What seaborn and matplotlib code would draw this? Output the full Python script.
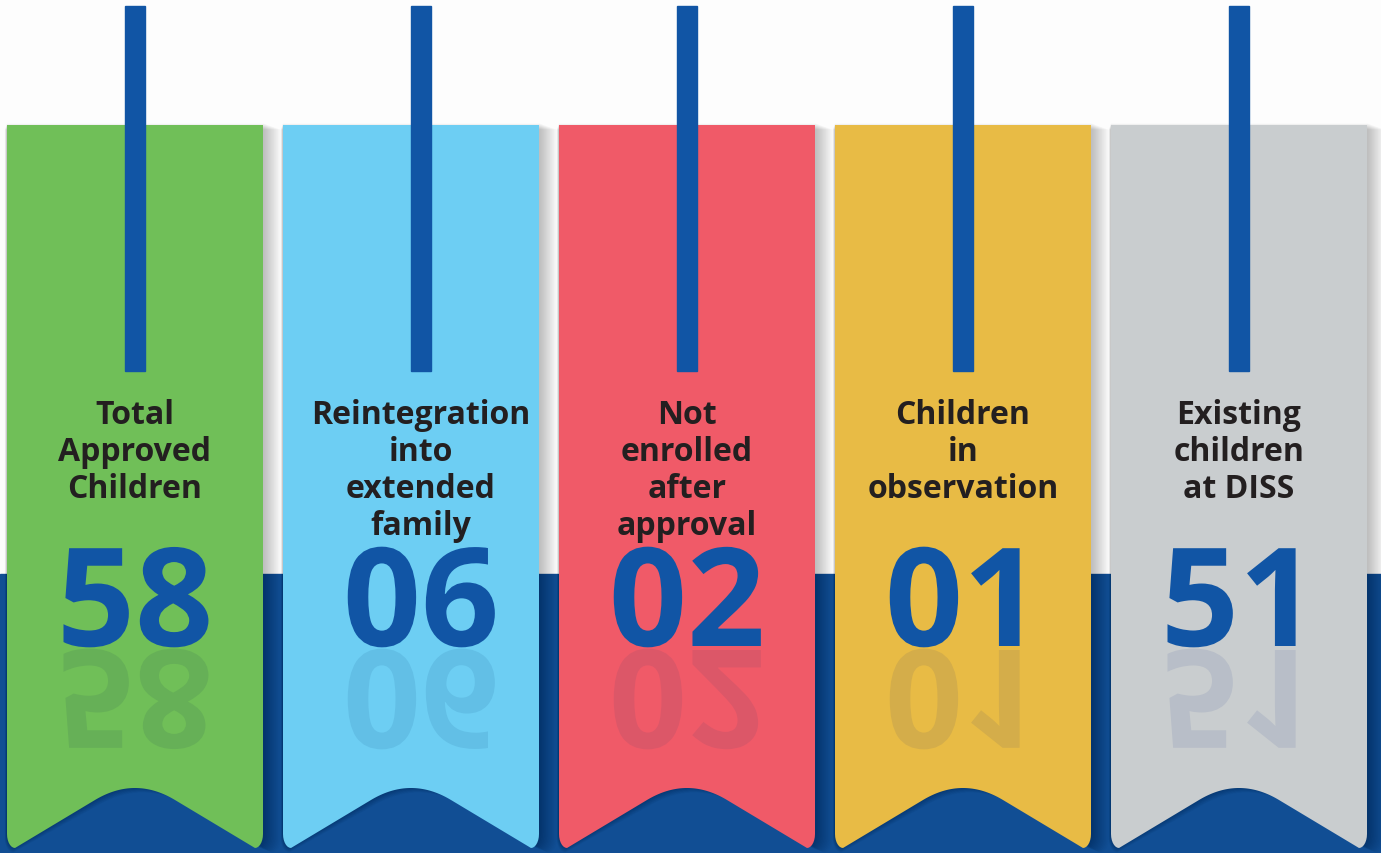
import numpy as np
import matplotlib
matplotlib.use("Agg")
import matplotlib.pyplot as plt
import seaborn as sns
from matplotlib.patches import Polygon, Rectangle, PathPatch
from matplotlib.textpath import TextPath, text_to_path
from matplotlib.font_manager import FontProperties
from matplotlib.transforms import Affine2D

# ---- data ----
labels = [
    ["Total", "Approved", "Children"],
    ["Reintegration", "into", "extended", "family"],
    ["Not", "enrolled", "after", "approval"],
    ["Children", "in", "observation"],
    ["Existing", "children", "at DISS"],
]
values = ["58", "06", "02", "01", "51"]

# ---- style ----
banner_colors = ["#70bf58", "#6dcef3", "#f05a68", "#e8bb45", "#c9cdcf"]
reflect_colors = ["#66b057", "#62bfe6", "#dc5768", "#d4ad4a", "#b8bec8"]
content_shift = [0, 10, 0, 0, 0]
navy = "#1155a5"
band = "#114e94"
text_dark = "#231f20"

sns.set_theme(style="white")
plt.rcParams["font.family"] = ["Open Sans", "DejaVu Sans"]

W, H = 1381, 854
fig = plt.figure(figsize=(W / 100, H / 100), dpi=100)
ax = fig.add_axes([0, 0, 1, 1])
ax.set_xlim(0, W)
ax.set_ylim(H, 0)
ax.axis("off")
fig.patch.set_facecolor("#fdfdfd")

# blue band
ax.add_patch(Rectangle((0, 575), W, H - 575, color=band, zorder=0))

left0, pitch, bw = 7, 276, 256
top, bottom, apex = 126, 849, 789


def notch_profile(s):
    a = 2 / 3
    return np.where(s < a, 1.2 * s, 1 - 1.8 * (1 - s) ** 2)


def banner_shape(left):
    right = left + bw
    cx = left + bw / 2
    r = 8
    pts = [(left, top), (right, top), (right, bottom - 14)]
    for a in np.linspace(0, np.pi / 2, 8):
        pts.append((right - r + r * np.cos(a), bottom - 14 + 14 * np.sin(a)))
    s = np.linspace(0, 1, 60)
    xs = right - r - (right - r - cx) * s
    ys = bottom - (bottom - apex) * notch_profile(s)
    pts += list(zip(xs, ys))
    s = np.linspace(1, 0, 60)
    xs = cx - (cx - (left + r)) * (1 - s) * 0 - (cx - (left + r)) * (1 - s)
    xs = left + r + (cx - (left + r)) * s
    ys = bottom - (bottom - apex) * notch_profile(s)
    pts += list(zip(xs, ys))
    for a in np.linspace(np.pi / 2, np.pi, 8):
        pts.append((left + r + r * np.cos(a), bottom - 14 + 14 * np.sin(a)))
    pts.append((left, top))
    return np.array(pts)


num_size = 137
num_fp = FontProperties(family="Open Sans", weight="bold", size=num_size)
baseline = 647
gap = 4

for i, (lab, val) in enumerate(zip(labels, values)):
    left = left0 + pitch * i
    bcx = left + bw / 2
    cx = bcx + content_shift[i]
    shape = banner_shape(left)
    # soft shadow
    for d in range(1, 14):
        sh = shape.copy()
        sh[:, 0] = bcx + (sh[:, 0] - bcx) * (1 + d * 0.006) + d * 0.6
        sh[:, 1] = sh[:, 1] + d * 0.5 - 2
        ax.add_patch(Polygon(sh, closed=True, facecolor="black", alpha=0.018,
                             edgecolor="none", zorder=1))
    ax.add_patch(Polygon(shape, closed=True, facecolor=banner_colors[i],
                         edgecolor="none", zorder=2))
    # cord
    ax.add_patch(Rectangle((cx - 10, 7), 20, 365, color=navy, zorder=3))
    # labels
    for j, line in enumerate(lab):
        ax.text(cx, 424 + 37 * j, line, ha="center", va="baseline",
                fontsize=23, fontweight="bold", color=text_dark,
                family="Open Sans", zorder=4)
    # number (centred by advance width)
    tp = TextPath((0, 0), val, size=num_size, prop=num_fp)
    adv, _, _ = text_to_path.get_text_width_height_descent(val, num_fp, ismath=False)
    xoff = cx - adv / 2
    up = Affine2D().scale(1, -1).translate(xoff, baseline)
    ax.add_patch(PathPatch(up.transform_path(tp), facecolor=navy,
                           edgecolor="none", zorder=4))
    dn = Affine2D().translate(xoff, baseline + gap)
    ax.add_patch(PathPatch(dn.transform_path(tp), facecolor=reflect_colors[i],
                           edgecolor="none", zorder=3))

fig.savefig("out.png", dpi=100)
